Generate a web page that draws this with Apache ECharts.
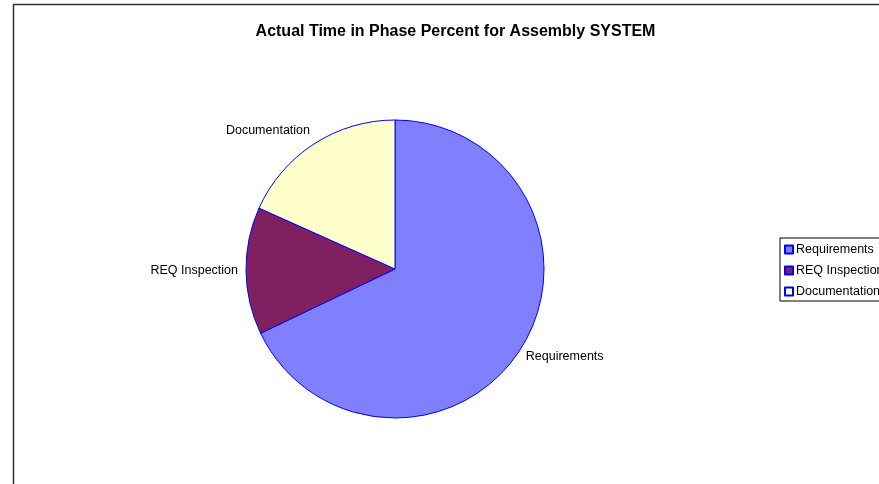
<!DOCTYPE html>
<html>
<head>
<meta charset="utf-8">
<script src="https://cdn.jsdelivr.net/npm/echarts@6/dist/echarts.min.js"></script>
<style>
html,body{margin:0;padding:0;background:#fff;}
#chart{width:879px;height:484px;}
</style>
</head>
<body>
<div id="chart"></div>
<script>
var titleText = 'Actual Time in Phase Percent for Assembly SYSTEM';
var categories = ['Requirements', 'REQ Inspection', 'Documentation'];
var values = [67.9, 13.8, 18.3];
var colors = ['#8080FF', '#802060', '#FFFFCC'];
var labelLineLens = [15, 3, 16.5];
var labelDists = [-8, 5, -5];

var font = '"Liberation Sans", Arial, sans-serif';
var chart = echarts.init(document.getElementById('chart'));

var data = categories.map(function (c, i) {
  return {
    name: c,
    value: values[i],
    itemStyle: { color: colors[i], borderColor: '#0000FF', borderWidth: 1 },
    labelLine: { show: false, length: labelLineLens[i], length2: 0 },
    label: { distanceToLabelLine: labelDists[i] }
  };
});

chart.setOption({
  animation: false,
  backgroundColor: '#fff',
  title: {
    text: titleText,
    left: 455.5,
    textAlign: 'center',
    top: 24,
    padding: 0,
    textStyle: { fontFamily: font, fontSize: 16, fontWeight: 'bold', color: '#000' }
  },
  graphic: [{
    type: 'rect',
    shape: { x: 13.5, y: 4.5, width: 2000, height: 2000 },
    style: { fill: 'none', stroke: '#333', lineWidth: 1.5 },
    silent: true
  }],
  legend: {
    orient: 'vertical',
    left: 780,
    top: 238,
    padding: [5, 4, 3, 4],
    itemWidth: 8,
    itemHeight: 8,
    itemGap: 8,
    icon: 'rect',
    borderColor: '#000',
    borderWidth: 1,
    textStyle: { fontFamily: font, fontSize: 12.5, color: '#000', lineHeight: 13, padding: [0, 0, 0, -2] },
    data: categories
  },
  series: [{
    type: 'pie',
    center: [395, 269],
    radius: 149,
    startAngle: 90,
    clockwise: true,
    avoidLabelOverlap: false,
    label: {
      show: true,
      position: 'outside',
      fontFamily: font,
      fontSize: 12.5,
      color: '#000',
      formatter: '{b}'
    },
    emphasis: { disabled: true },
    data: data
  }]
});
</script>
</body>
</html>
